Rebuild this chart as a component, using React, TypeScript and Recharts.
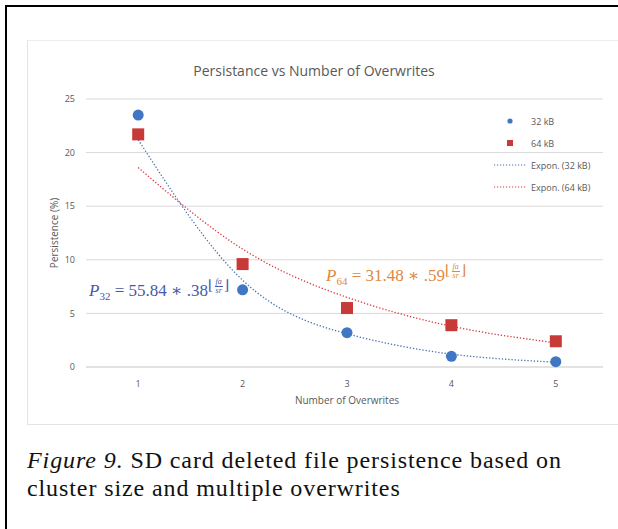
import React from "react";
import { ComposedChart, Line, Scatter, XAxis, YAxis, CartesianGrid } from "recharts";

const overwrites = [1, 2, 3, 4, 5];
const persist32 = [23.5, 7.2, 3.2, 1.0, 0.5];
const persist64 = [21.7, 9.6, 5.5, 3.9, 2.4];
const trend32 = [21.2, 8.1, 3.1, 1.2, 0.45];
const trend64 = [18.6, 11.0, 6.5, 3.8, 2.25];
const yTicks = [0, 5, 10, 15, 20, 25];

const data = overwrites.map((x, i) => ({
  x,
  s32: persist32[i],
  s64: persist64[i],
  t32: trend32[i],
  t64: trend64[i],
}));

const BLUE = "#3F77C4";
const RED = "#C73A38";
const TBLUE = "#4A6FB0";
const TRED = "#D9383F";
const GREY = "#595959";
const FONT = "'Open Sans', 'Noto Sans', sans-serif";

const Circle = (p: any) => <circle cx={p.cx} cy={p.cy} r={5.5} fill={BLUE} />;
const Square = (p: any) => <rect x={p.cx - 6} y={p.cy - 6} width={12} height={12} fill={RED} />;

const legendItems = [
  { label: "32 kB", kind: "dot" },
  { label: "64 kB", kind: "sq" },
  { label: "Expon. (32 kB)", kind: "l32" },
  { label: "Expon. (64 kB)", kind: "l64" },
];

const LegendBox = () => (
  <div style={{ position: "absolute", left: 492, top: 110, fontFamily: FONT, fontSize: 9, color: GREY }}>
    {legendItems.map((it) => (
      <div key={it.label} style={{ display: "flex", alignItems: "center", height: 22 }}>
        <svg width={36} height={10} style={{ marginRight: 3 }}>
          {it.kind === "dot" && <circle cx={18} cy={5} r={2.6} fill={BLUE} />}
          {it.kind === "sq" && <rect x={15} y={2} width={6} height={6} fill={RED} />}
          {it.kind === "l32" && <line x1={2} y1={5} x2={35} y2={5} stroke={TBLUE} strokeWidth={1.2} strokeDasharray="1.2 1.8" />}
          {it.kind === "l64" && <line x1={2} y1={5} x2={35} y2={5} stroke={TRED} strokeWidth={1.2} strokeDasharray="1.2 1.8" />}
        </svg>
        <span>{it.label}</span>
      </div>
    ))}
  </div>
);

const Exponent = ({ color }: { color: string }) => (
  <span style={{ display: "inline-flex", alignItems: "center", verticalAlign: "top", position: "relative", top: -5, fontSize: 14, color }}>
    <span>⌊</span>
    <span style={{ display: "inline-flex", flexDirection: "column", alignItems: "center", fontSize: 8, lineHeight: "8px", fontStyle: "italic", margin: "0 1px" }}>
      <span style={{ borderBottom: `0.8px solid ${color}`, padding: "0 1px" }}>fa</span>
      <span>sr</span>
    </span>
    <span>⌋</span>
  </span>
);

const Formula = ({ sub, text, color, left, top }: any) => (
  <div style={{ position: "absolute", left, top, color, fontFamily: "'Liberation Serif', 'DejaVu Serif', serif", fontSize: 17, whiteSpace: "nowrap", lineHeight: "24px" }}>
    <i>P</i>
    <sub style={{ fontSize: 11, verticalAlign: "-4px" }}>{sub}</sub>
    <span>{text}</span>
    <Exponent color={color} />
  </div>
);

export default function App() {
  return (
    <div style={{ position: "absolute", left: 0, top: 0, width: 618, height: 529, background: "#fff", overflow: "hidden" }}>
      <div style={{ position: "absolute", left: 5, top: 5, width: 640, height: 560, borderLeft: "2px solid #000", borderTop: "2px solid #000" }} />
      <div style={{ position: "absolute", left: 27, top: 40, width: 590, height: 383, borderLeft: "1px solid #E3E3E3", borderTop: "1px solid #EDEDED", borderBottom: "1px solid #E3E3E3" }} />
      <div style={{ position: "absolute", left: 27, top: 40, width: 576, height: 384, overflow: "hidden" }}>
        <ComposedChart width={586} height={384} data={data} margin={{ top: 59, right: 5, bottom: 0, left: 0 }}>
          <text x={287} y={36} textAnchor="middle" fontFamily={FONT} fontSize={14} fill={GREY}>
            Persistance vs Number of Overwrites
          </text>
          <CartesianGrid vertical={false} stroke="#D9D9D9" />
          <XAxis
            dataKey="x"
            type="number"
            domain={[0.5, 5.5]}
            ticks={overwrites}
            axisLine={{ stroke: "#D9D9D9" }}
            tickLine={false}
            tick={{ fontSize: 9, fill: GREY, fontFamily: FONT }}
            tickMargin={8}
            height={57}
            label={{ value: "Number of Overwrites", position: "insideTop", offset: 30, fontSize: 10, fill: GREY, fontFamily: FONT }}
          />
          <YAxis
            type="number"
            domain={[0, 25]}
            ticks={yTicks}
            axisLine={false}
            tickLine={false}
            width={59}
            tick={{ fontSize: 9, fill: GREY, fontFamily: FONT }}
            tickMargin={5}
            label={{ value: "Persistence (%)", angle: -90, position: "insideLeft", offset: 27, fontSize: 10, fill: GREY, fontFamily: FONT, style: { textAnchor: "middle" } }}
          />
          <Line dataKey="t32" type="natural" stroke={TBLUE} strokeWidth={1.3} strokeDasharray="1.3 1.9" dot={false} isAnimationActive={false} />
          <Line dataKey="t64" type="natural" stroke={TRED} strokeWidth={1.3} strokeDasharray="1.3 1.9" dot={false} isAnimationActive={false} />
          <Scatter dataKey="s32" shape={Circle} isAnimationActive={false} />
          <Scatter dataKey="s64" shape={Square} isAnimationActive={false} />
        </ComposedChart>
      </div>
      <LegendBox />
      <Formula sub="32" text=" = 55.84 ∗ .38" color="#4C57A8" left={89} top={279} />
      <Formula sub="64" text=" = 31.48 ∗ .59" color="#E0883E" left={326} top={264} />
      <div style={{ position: "absolute", left: 27, top: 446, fontFamily: "'Liberation Serif', serif", fontSize: 24, letterSpacing: 0.9, lineHeight: "28px", color: "#111", width: 600, whiteSpace: "nowrap" }}>
        <i>Figure 9.</i> SD card deleted file persistence based on
        <br />
        cluster size and multiple overwrites
      </div>
    </div>
  );
}
